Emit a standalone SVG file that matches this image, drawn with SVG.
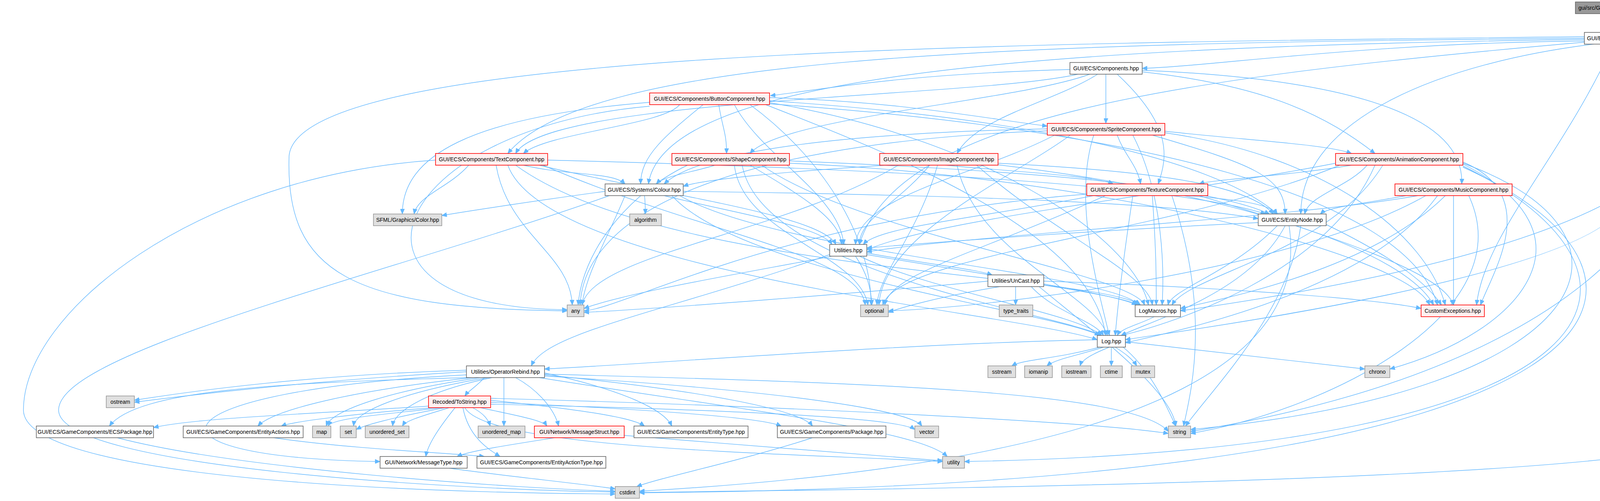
<svg xmlns="http://www.w3.org/2000/svg" width="5046" height="1283" viewBox="0 0 5046 1283">
<style>
.nd rect{fill:#ffffff;stroke:#666666;stroke-width:1.6}
.rd rect{fill:#fff0f0;stroke:#ff0000;stroke-width:1.6}
.gr rect{fill:#e0e0e0;stroke:#999999;stroke-width:1.6}
.rt rect{fill:#999999;stroke:#666666;stroke-width:1.6}
text{font-family:"Liberation Sans",Arial,Helvetica,sans-serif;font-size:14px;text-anchor:middle;fill:#000000}
#edges path{fill:none;stroke:#63b8ff;stroke-width:1.4;marker-end:url(#ah)}
</style>
<defs>
<marker id="ah" markerUnits="userSpaceOnUse" markerWidth="13" markerHeight="11" viewBox="0 0 13 11" refX="13" refY="5.5" orient="auto"><path d="M0,0 L13,5.5 L0,11 z" fill="#63b8ff" stroke="#63b8ff"/></marker>
</defs>
<rect width="5046" height="1283" fill="#ffffff"/>
<g id="edges">
<path d="M4160,35 L4160,83"/>
<path d="M4056,105 C3500,110 3100,170 2924,175"/>
<path d="M4200,113 C4350,130 4500,140 4534,160"/>
<path d="M4230,113 C4500,130 4650,140 4682,160"/>
<path d="M4260,113 C4600,130 4880,140 4919,160"/>
<path d="M4056,98 C2500,110 1500,150 1300,393"/>
<path d="M4056,101 C2600,120 1700,200 1660,471"/>
<path d="M4056,94 C2500,110 760,130 740,400 C730,700 900,790 1452,796"/>
<path d="M4080,113 C3700,160 3330,300 3330,548"/>
<path d="M4056,108 C3000,200 2300,300 2200,626"/>
<path d="M4190,113 C4450,300 4400,600 3022,796"/>
<path d="M4160,113 L4160,500 C4160,700 3000,850 2881,870"/>
<path d="M4240,113 C4420,300 4300,900 3048,1105"/>
<path d="M4130,113 C4000,400 3800,600 3780,781"/>
<path d="M4265,108 C4450,200 4420,900 4420,1100 C4420,1240 2000,1255 1637,1261"/>
<path d="M2739,178 C2300,190 2100,230 1972,245"/>
<path d="M2831,190 L2831,316"/>
<path d="M2760,190 C2500,250 1400,250 1320,393"/>
<path d="M2790,190 C2600,260 2000,300 1920,393"/>
<path d="M2810,190 C2700,260 2500,300 2450,393"/>
<path d="M2924,184 C3250,220 3400,300 3520,393"/>
<path d="M2860,190 C3000,320 2990,400 2965,471"/>
<path d="M2924,180 C3400,200 3750,280 3742,471"/>
<path d="M1970,250 C2300,260 2500,300 2681,323"/>
<path d="M1740,268 C1700,320 1400,340 1340,393"/>
<path d="M1840,268 C1850,330 1860,340 1860,393"/>
<path d="M1800,268 C1700,350 1640,400 1640,471"/>
<path d="M1970,258 C2600,300 3100,400 3270,548"/>
<path d="M1880,268 C1950,400 2150,500 2160,626"/>
<path d="M1663,272 C1000,330 800,790 1452,793"/>
<path d="M1663,262 C1200,300 1030,400 1030,548"/>
<path d="M1920,268 C2100,400 2230,600 2230,781"/>
<path d="M1960,268 C2300,400 2800,600 2830,859"/>
<path d="M1970,263 C2500,350 2900,600 2940,781"/>
<path d="M1970,266 C2900,330 3600,500 3680,781"/>
<path d="M2860,346 C2880,400 2910,420 2920,471"/>
<path d="M2982,336 C3200,360 3400,370 3460,393"/>
<path d="M2950,346 C3200,420 3290,450 3290,548"/>
<path d="M2700,346 C2500,450 2200,500 2190,626"/>
<path d="M2681,335 C2000,360 1500,500 1485,781"/>
<path d="M2740,346 C2600,450 2260,600 2250,781"/>
<path d="M2800,346 C2750,500 2800,700 2840,859"/>
<path d="M2900,346 C2980,500 2980,700 2975,781"/>
<path d="M2982,340 C3400,400 3650,600 3700,781"/>
<path d="M2681,330 C2200,340 1800,380 1700,471"/>
<path d="M1200,423 C1150,480 1070,500 1060,548"/>
<path d="M1340,423 C1450,450 1570,440 1600,471"/>
<path d="M1402,410 C2200,430 3000,470 3240,548"/>
<path d="M1380,423 C1700,500 2100,550 2140,626"/>
<path d="M1270,423 C1300,600 1460,650 1465,781"/>
<path d="M1390,423 C1800,600 2200,650 2215,781"/>
<path d="M1300,423 C1400,700 2600,800 2809,870"/>
<path d="M1320,423 C1700,700 2800,700 2920,781"/>
<path d="M1115,410 C500,450 60,800 60,1050 C60,1220 1000,1262 1575,1265"/>
<path d="M1830,423 C1780,440 1700,450 1680,471"/>
<path d="M2021,412 C2700,440 3100,480 3250,548"/>
<path d="M1920,423 C2050,500 2150,560 2155,626"/>
<path d="M1760,423 C1600,500 1490,650 1480,781"/>
<path d="M1880,423 C1900,600 2200,650 2222,781"/>
<path d="M1900,423 C1950,700 2700,800 2820,859"/>
<path d="M1950,423 C2200,600 2900,700 2930,781"/>
<path d="M2021,418 C2800,450 3600,650 3660,781"/>
<path d="M2420,423 C2600,440 2800,450 2850,471"/>
<path d="M2270,423 C2000,440 1800,460 1749,477"/>
<path d="M2555,418 C3000,440 3200,480 3260,548"/>
<path d="M2380,423 C2300,520 2200,560 2200,626"/>
<path d="M2300,423 C2000,600 1520,650 1490,781"/>
<path d="M2400,423 C2350,600 2250,700 2245,781"/>
<path d="M2450,423 C2500,650 2800,750 2835,859"/>
<path d="M2500,423 C2700,600 2940,700 2950,781"/>
<path d="M2555,422 C3200,500 3600,650 3670,781"/>
<path d="M3460,423 C3300,450 3100,460 3070,471"/>
<path d="M3500,423 C3450,480 3350,500 3340,548"/>
<path d="M3419,418 C3000,500 2400,560 2219,640"/>
<path d="M3430,423 C3000,600 2300,650 2260,781"/>
<path d="M3520,423 C3400,700 3000,830 2870,859"/>
<path d="M3540,423 C3400,650 3050,700 3000,781"/>
<path d="M3745,415 C3950,500 3820,700 3790,781"/>
<path d="M3745,420 C4100,600 3900,850 3558,945"/>
<path d="M3745,418 C4250,600 4100,1000 3048,1100"/>
<path d="M3745,425 C4300,700 4200,1150 2469,1182"/>
<path d="M3745,428 C4350,700 4300,1240 1637,1262"/>
<path d="M1549,490 C1400,510 1200,540 1131,552"/>
<path d="M1650,501 C1652,520 1652,530 1652,548"/>
<path d="M1749,490 C2500,500 3000,520 3221,560"/>
<path d="M1700,501 C1900,550 2100,580 2130,626"/>
<path d="M1600,501 C1560,600 1500,700 1490,781"/>
<path d="M1720,501 C1900,700 2700,800 2815,859"/>
<path d="M1740,501 C2000,650 2850,700 2915,781"/>
<path d="M1560,501 C1000,700 150,900 150,1050 C150,1200 1200,1255 1575,1260"/>
<path d="M3040,501 C3150,510 3250,520 3270,548"/>
<path d="M2800,501 C2500,560 2250,580 2210,626"/>
<path d="M2782,497 C2000,560 1600,790 1495,796"/>
<path d="M2830,501 C2500,650 2280,700 2265,781"/>
<path d="M2900,501 C2870,700 2860,800 2855,859"/>
<path d="M2950,501 C2960,650 2960,700 2960,781"/>
<path d="M3070,501 C3400,600 3700,700 3720,781"/>
<path d="M3000,501 C3100,800 3050,1000 3030,1091"/>
<path d="M3600,501 C3500,520 3400,530 3380,548"/>
<path d="M3630,501 C3300,560 2500,600 2219,645"/>
<path d="M3650,501 C3300,700 2500,790 2274,796"/>
<path d="M3680,501 C3500,750 3000,850 2881,878"/>
<path d="M3700,501 C3500,700 3100,770 3022,790"/>
<path d="M3721,501 L3721,781"/>
<path d="M3760,501 C3900,800 3400,1050 3048,1110"/>
<path d="M3221,570 C2800,590 2400,620 2219,635"/>
<path d="M3290,578 C3200,750 2950,820 2870,859"/>
<path d="M3270,578 C3150,700 3000,740 2990,781"/>
<path d="M3395,575 C3550,650 3650,720 3690,781"/>
<path d="M3330,578 C3300,800 3100,1000 3035,1091"/>
<path d="M3300,578 C3350,900 3000,1180 1637,1258"/>
<path d="M2219,648 C2400,680 2500,690 2540,704"/>
<path d="M2130,656 C1900,700 1600,750 1495,790"/>
<path d="M2190,656 C2220,700 2230,740 2232,781"/>
<path d="M2124,652 C1700,800 1400,850 1360,937"/>
<path d="M2200,656 C2400,750 2750,800 2820,859"/>
<path d="M2219,652 C2500,700 2850,750 2910,781"/>
<path d="M2560,734 C2400,760 2300,790 2274,800"/>
<path d="M2600,734 L2600,781"/>
<path d="M2640,734 C2700,800 2800,820 2825,859"/>
<path d="M2672,730 C2800,750 2900,770 2910,781"/>
<path d="M2529,720 C2200,750 1700,790 1495,800"/>
<path d="M2672,720 C3000,730 3500,760 3638,790"/>
<path d="M2660,734 C2800,850 3000,1000 3010,1091"/>
<path d="M2955,811 C2920,830 2870,840 2860,859"/>
<path d="M2815,889 C2700,920 2620,920 2590,937"/>
<path d="M2825,889 C2760,910 2700,920 2680,937"/>
<path d="M2840,889 C2800,905 2770,920 2765,937"/>
<path d="M2845,889 L2845,937"/>
<path d="M2855,889 C2880,905 2900,920 2910,937"/>
<path d="M2875,889 C2950,950 2990,1050 3010,1091"/>
<path d="M2881,875 C3100,900 3350,930 3494,945"/>
<path d="M2809,870 C2300,880 1700,930 1394,945"/>
<path d="M1194,948 C800,960 500,1000 344,1025"/>
<path d="M1194,952 C800,975 500,1010 344,1030"/>
<path d="M1240,967 C1220,990 1200,1000 1190,1014"/>
<path d="M1200,967 C700,980 350,1000 280,1091"/>
<path d="M1210,967 C900,1000 700,1050 660,1091"/>
<path d="M1230,967 C1000,1000 850,1050 835,1091"/>
<path d="M1250,967 C1050,1000 910,1050 905,1091"/>
<path d="M1260,967 C1100,1000 1010,1050 1005,1091"/>
<path d="M1290,967 C1290,1000 1290,1050 1290,1091"/>
<path d="M1320,967 C1380,1000 1420,1050 1430,1091"/>
<path d="M1194,960 C400,1000 300,1170 973,1182"/>
<path d="M1394,955 C1600,1000 1700,1050 1720,1091"/>
<path d="M1394,960 C1800,1000 2050,1050 2080,1091"/>
<path d="M1394,963 C2000,1000 2330,1050 2360,1091"/>
<path d="M1394,958 C2200,980 2900,1000 2991,1105"/>
<path d="M1380,967 C1900,1050 2350,1100 2425,1169"/>
<path d="M1097,1040 C800,1060 500,1070 393,1095"/>
<path d="M1110,1044 C900,1060 750,1080 720,1091"/>
<path d="M1130,1044 C1000,1060 850,1070 840,1091"/>
<path d="M1140,1044 C1000,1070 930,1090 912,1100"/>
<path d="M1150,1044 C1100,1060 1040,1075 1030,1091"/>
<path d="M1210,1044 C1240,1060 1250,1075 1255,1091"/>
<path d="M1230,1044 C1300,1060 1390,1075 1400,1091"/>
<path d="M1165,1044 C1120,1100 1095,1140 1090,1169"/>
<path d="M1185,1044 C1200,1120 1250,1150 1280,1169"/>
<path d="M1256,1025 C1500,1050 1620,1070 1650,1091"/>
<path d="M1256,1030 C1700,1050 1950,1070 2000,1091"/>
<path d="M1256,1035 C1900,1050 2300,1070 2342,1100"/>
<path d="M1256,1020 C2000,1040 2800,1080 2991,1110"/>
<path d="M1190,1044 C1250,1150 2000,1160 2413,1182"/>
<path d="M300,1121 C600,1200 1300,1250 1575,1258"/>
<path d="M700,1121 C900,1150 1150,1160 1240,1169"/>
<path d="M1420,1121 C1300,1140 1200,1155 1170,1169"/>
<path d="M1598,1115 C1900,1140 2300,1170 2413,1180"/>
<path d="M2080,1121 C1900,1180 1700,1220 1630,1246"/>
<path d="M1150,1199 C1300,1220 1500,1240 1575,1252"/>
</g>
<g id="nodes">
<g id="n0" class="rt"><rect x="4033" y="5" width="255" height="30"/><text x="4160.5" y="25">gui/src/GUI/ECS/Systems/Window.cpp</text></g>
<g id="n1" class="nd"><rect x="4056" y="83" width="209" height="30"/><text x="4160.5" y="103">GUI/ECS/Systems/Window.hpp</text></g>
<g id="n2" class="nd"><rect x="2739" y="160" width="185" height="30"/><text x="2831.5" y="180">GUI/ECS/Components.hpp</text></g>
<g id="n3" class="gr"><rect x="4503" y="160" width="63" height="30"/><text x="4534.5" y="180">cstring</text></g>
<g id="n4" class="gr"><rect x="4589" y="160" width="186" height="30"/><text x="4682" y="180">SFML/Graphics/Image.hpp</text></g>
<g id="n5" class="gr"><rect x="4800" y="160" width="239" height="30"/><text x="4919.5" y="180">SFML/Graphics/RenderWindow.hpp</text></g>
<g id="n6" class="rd"><rect x="1663" y="238" width="307" height="30"/><text x="1816.5" y="258">GUI/ECS/Components/ButtonComponent.hpp</text></g>
<g id="n7" class="rd"><rect x="2681" y="316" width="301" height="30"/><text x="2831.5" y="336">GUI/ECS/Components/SpriteComponent.hpp</text></g>
<g id="n8" class="rd"><rect x="1115" y="393" width="287" height="30"/><text x="1258.5" y="413">GUI/ECS/Components/TextComponent.hpp</text></g>
<g id="n9" class="rd"><rect x="1720" y="393" width="301" height="30"/><text x="1870.5" y="413">GUI/ECS/Components/ShapeComponent.hpp</text></g>
<g id="n10" class="rd"><rect x="2252" y="393" width="303" height="30"/><text x="2403.5" y="413">GUI/ECS/Components/ImageComponent.hpp</text></g>
<g id="n11" class="rd"><rect x="3419" y="393" width="326" height="30"/><text x="3582" y="413">GUI/ECS/Components/AnimationComponent.hpp</text></g>
<g id="n12" class="nd"><rect x="1549" y="471" width="200" height="30"/><text x="1649" y="491">GUI/ECS/Systems/Colour.hpp</text></g>
<g id="n13" class="rd"><rect x="2782" y="471" width="310" height="30"/><text x="2937" y="491">GUI/ECS/Components/TextureComponent.hpp</text></g>
<g id="n14" class="rd"><rect x="3571" y="471" width="300" height="30"/><text x="3721" y="491">GUI/ECS/Components/MusicComponent.hpp</text></g>
<g id="n15" class="gr"><rect x="956" y="548" width="175" height="30"/><text x="1043.5" y="568">SFML/Graphics/Color.hpp</text></g>
<g id="n16" class="gr"><rect x="1612" y="548" width="81" height="30"/><text x="1652.5" y="568">algorithm</text></g>
<g id="n17" class="nd"><rect x="3221" y="548" width="174" height="30"/><text x="3308" y="568">GUI/ECS/EntityNode.hpp</text></g>
<g id="n18" class="nd"><rect x="2124" y="626" width="95" height="30"/><text x="2171.5" y="646">Utilities.hpp</text></g>
<g id="n19" class="nd"><rect x="2529" y="704" width="143" height="30"/><text x="2600.5" y="724">Utilities/UnCast.hpp</text></g>
<g id="n20" class="gr"><rect x="1452" y="781" width="43" height="30"/><text x="1473.5" y="801">any</text></g>
<g id="n21" class="gr"><rect x="2203" y="781" width="71" height="30"/><text x="2238.5" y="801">optional</text></g>
<g id="n22" class="gr"><rect x="2558" y="781" width="86" height="30"/><text x="2601" y="801">type_traits</text></g>
<g id="n23" class="nd"><rect x="2906" y="781" width="116" height="30"/><text x="2964" y="801">LogMacros.hpp</text></g>
<g id="n24" class="rd"><rect x="3638" y="781" width="162" height="30"/><text x="3719" y="801">CustomExceptions.hpp</text></g>
<g id="n25" class="nd"><rect x="2809" y="859" width="72" height="30"/><text x="2845" y="879">Log.hpp</text></g>
<g id="n26" class="nd"><rect x="1194" y="937" width="200" height="30"/><text x="1294" y="957">Utilities/OperatorRebind.hpp</text></g>
<g id="n27" class="gr"><rect x="2529" y="937" width="71" height="30"/><text x="2564.5" y="957">sstream</text></g>
<g id="n28" class="gr"><rect x="2623" y="937" width="71" height="30"/><text x="2658.5" y="957">iomanip</text></g>
<g id="n29" class="gr"><rect x="2718" y="937" width="75" height="30"/><text x="2755.5" y="957">iostream</text></g>
<g id="n30" class="gr"><rect x="2817" y="937" width="56" height="30"/><text x="2845" y="957">ctime</text></g>
<g id="n31" class="gr"><rect x="2896" y="937" width="60" height="30"/><text x="2926" y="957">mutex</text></g>
<g id="n32" class="gr"><rect x="3494" y="937" width="64" height="30"/><text x="3526" y="957">chrono</text></g>
<g id="n33" class="gr"><rect x="272" y="1014" width="72" height="30"/><text x="308" y="1034">ostream</text></g>
<g id="n34" class="rd"><rect x="1097" y="1014" width="159" height="30"/><text x="1176.5" y="1034">Recoded/ToString.hpp</text></g>
<g id="n35" class="nd"><rect x="93" y="1091" width="300" height="30"/><text x="243" y="1111">GUI/ECS/GameComponents/ECSPackage.hpp</text></g>
<g id="n36" class="nd"><rect x="469" y="1091" width="307" height="30"/><text x="622.5" y="1111">GUI/ECS/GameComponents/EntityActions.hpp</text></g>
<g id="n37" class="gr"><rect x="800" y="1091" width="47" height="30"/><text x="823.5" y="1111">map</text></g>
<g id="n38" class="gr"><rect x="871" y="1091" width="41" height="30"/><text x="891.5" y="1111">set</text></g>
<g id="n39" class="gr"><rect x="935" y="1091" width="112" height="30"/><text x="991" y="1111">unordered_set</text></g>
<g id="n40" class="gr"><rect x="1224" y="1091" width="120" height="30"/><text x="1284" y="1111">unordered_map</text></g>
<g id="n41" class="rd"><rect x="1368" y="1091" width="230" height="30"/><text x="1483" y="1111">GUI/Network/MessageStruct.hpp</text></g>
<g id="n42" class="nd"><rect x="1623" y="1091" width="292" height="30"/><text x="1769" y="1111">GUI/ECS/GameComponents/EntityType.hpp</text></g>
<g id="n43" class="nd"><rect x="1990" y="1091" width="278" height="30"/><text x="2129" y="1111">GUI/ECS/GameComponents/Package.hpp</text></g>
<g id="n44" class="gr"><rect x="2342" y="1091" width="61" height="30"/><text x="2372.5" y="1111">vector</text></g>
<g id="n45" class="gr"><rect x="2991" y="1091" width="57" height="30"/><text x="3019.5" y="1111">string</text></g>
<g id="n46" class="nd"><rect x="973" y="1169" width="223" height="30"/><text x="1084.5" y="1189">GUI/Network/MessageType.hpp</text></g>
<g id="n47" class="nd"><rect x="1221" y="1169" width="330" height="30"/><text x="1386" y="1189">GUI/ECS/GameComponents/EntityActionType.hpp</text></g>
<g id="n48" class="gr"><rect x="2413" y="1169" width="56" height="30"/><text x="2441" y="1189">utility</text></g>
<g id="n49" class="gr"><rect x="1575" y="1246" width="62" height="30"/><text x="1606" y="1266">cstdint</text></g>
</g>
</svg>
